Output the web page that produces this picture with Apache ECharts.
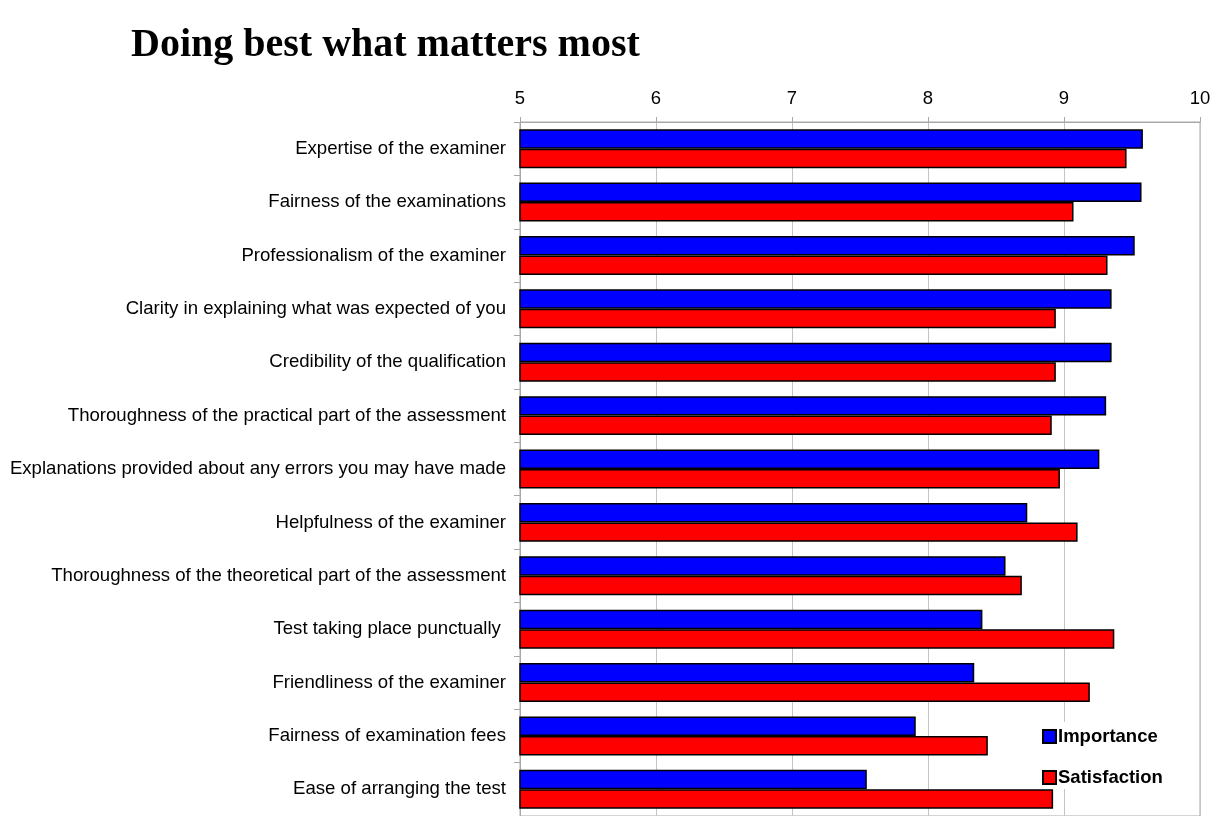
<!DOCTYPE html>
<html>
<head>
<meta charset="utf-8">
<title>Doing best what matters most</title>
<script src="https://cdn.jsdelivr.net/npm/echarts@6/dist/echarts.min.js"></script>
<style>
  html, body { margin: 0; padding: 0; background: #fff; }
  #chart { width: 1216px; height: 816px; }
</style>
</head>
<body>
<div id="chart"></div>
<script>
// Survey aspects, listed from top to bottom
const categories = [
  'Expertise of the examiner',
  'Fairness of the examinations',
  'Professionalism of the examiner',
  'Clarity in explaining what was expected of you',
  'Credibility of the qualification',
  'Thoroughness of the practical part of the assessment',
  'Explanations provided about any errors you may have made',
  'Helpfulness of the examiner',
  'Thoroughness of the theoretical part of the assessment',
  'Test taking place punctually ',
  'Friendliness of the examiner',
  'Fairness of examination fees',
  'Ease of arranging the test'
];

// Mean scores per aspect
const importance = [9.58, 9.57, 9.52, 9.35, 9.35, 9.31, 9.26, 8.73, 8.57, 8.40, 8.34, 7.91, 7.55];
const satisfaction = [9.46, 9.07, 9.32, 8.94, 8.94, 8.91, 8.97, 9.10, 8.69, 9.37, 9.19, 8.44, 8.92];

// Score axis range
const scoreMin = 5;
const scoreMax = 10;
const scoreStep = 1;

const chart = echarts.init(document.getElementById('chart'), null, { renderer: 'canvas' });

const sans = '"Liberation Sans", Arial, sans-serif';

chart.setOption({
  animation: false,
  backgroundColor: '#ffffff',
  title: {
    text: 'Doing best what matters most',
    left: 126,
    top: 21,
    textStyle: {
      fontFamily: '"Liberation Serif", "Times New Roman", serif',
      fontWeight: 'bold',
      fontSize: 40,
      color: '#000000'
    }
  },
  legend: {
    data: ['Importance', 'Satisfaction'],
    orient: 'vertical',
    left: 1036,
    top: 722,
    itemWidth: 13,
    itemHeight: 13,
    itemGap: 22,
    padding: [5, 14, 2, 6],
    backgroundColor: '#ffffff',
    icon: 'rect',
    textStyle: {
      fontFamily: sans,
      fontWeight: 'bold',
      fontSize: 18.5,
      color: '#000000',
      padding: [0, 0, 0, -3]
    }
  },
  grid: {
    left: 520,
    right: 16,
    top: 122,
    bottom: -2,
    show: true,
    borderColor: '#a8a8a8',
    borderWidth: 1,
    containLabel: false
  },
  xAxis: {
    type: 'value',
    position: 'top',
    min: scoreMin,
    max: scoreMax,
    interval: scoreStep,
    axisLine: { show: true, lineStyle: { color: '#a8a8a8', width: 1 } },
    axisTick: { show: true, length: 5, lineStyle: { color: '#a8a8a8' } },
    axisLabel: {
      fontFamily: sans,
      fontSize: 18.5,
      color: '#000000',
      margin: 14
    },
    splitLine: { show: true, lineStyle: { color: '#c4c4c4', width: 1 } }
  },
  yAxis: {
    type: 'category',
    data: categories,
    inverse: true,
    axisLine: { show: true, lineStyle: { color: '#a8a8a8', width: 1 } },
    axisTick: { show: true, length: 6, lineStyle: { color: '#a8a8a8' } },
    axisLabel: {
      fontFamily: sans,
      fontSize: 18.6,
      color: '#000000',
      margin: 14
    },
    splitLine: { show: false }
  },
  series: [
    {
      name: 'Importance',
      type: 'bar',
      data: importance,
      barGap: '0%',
      barCategoryGap: '27%',
      itemStyle: { color: '#0000ff', borderColor: '#000000', borderWidth: 1.5 }
    },
    {
      name: 'Satisfaction',
      type: 'bar',
      data: satisfaction,
      barGap: '0%',
      barCategoryGap: '27%',
      itemStyle: { color: '#ff0000', borderColor: '#000000', borderWidth: 1.5 }
    }
  ]
});
</script>
</body>
</html>
